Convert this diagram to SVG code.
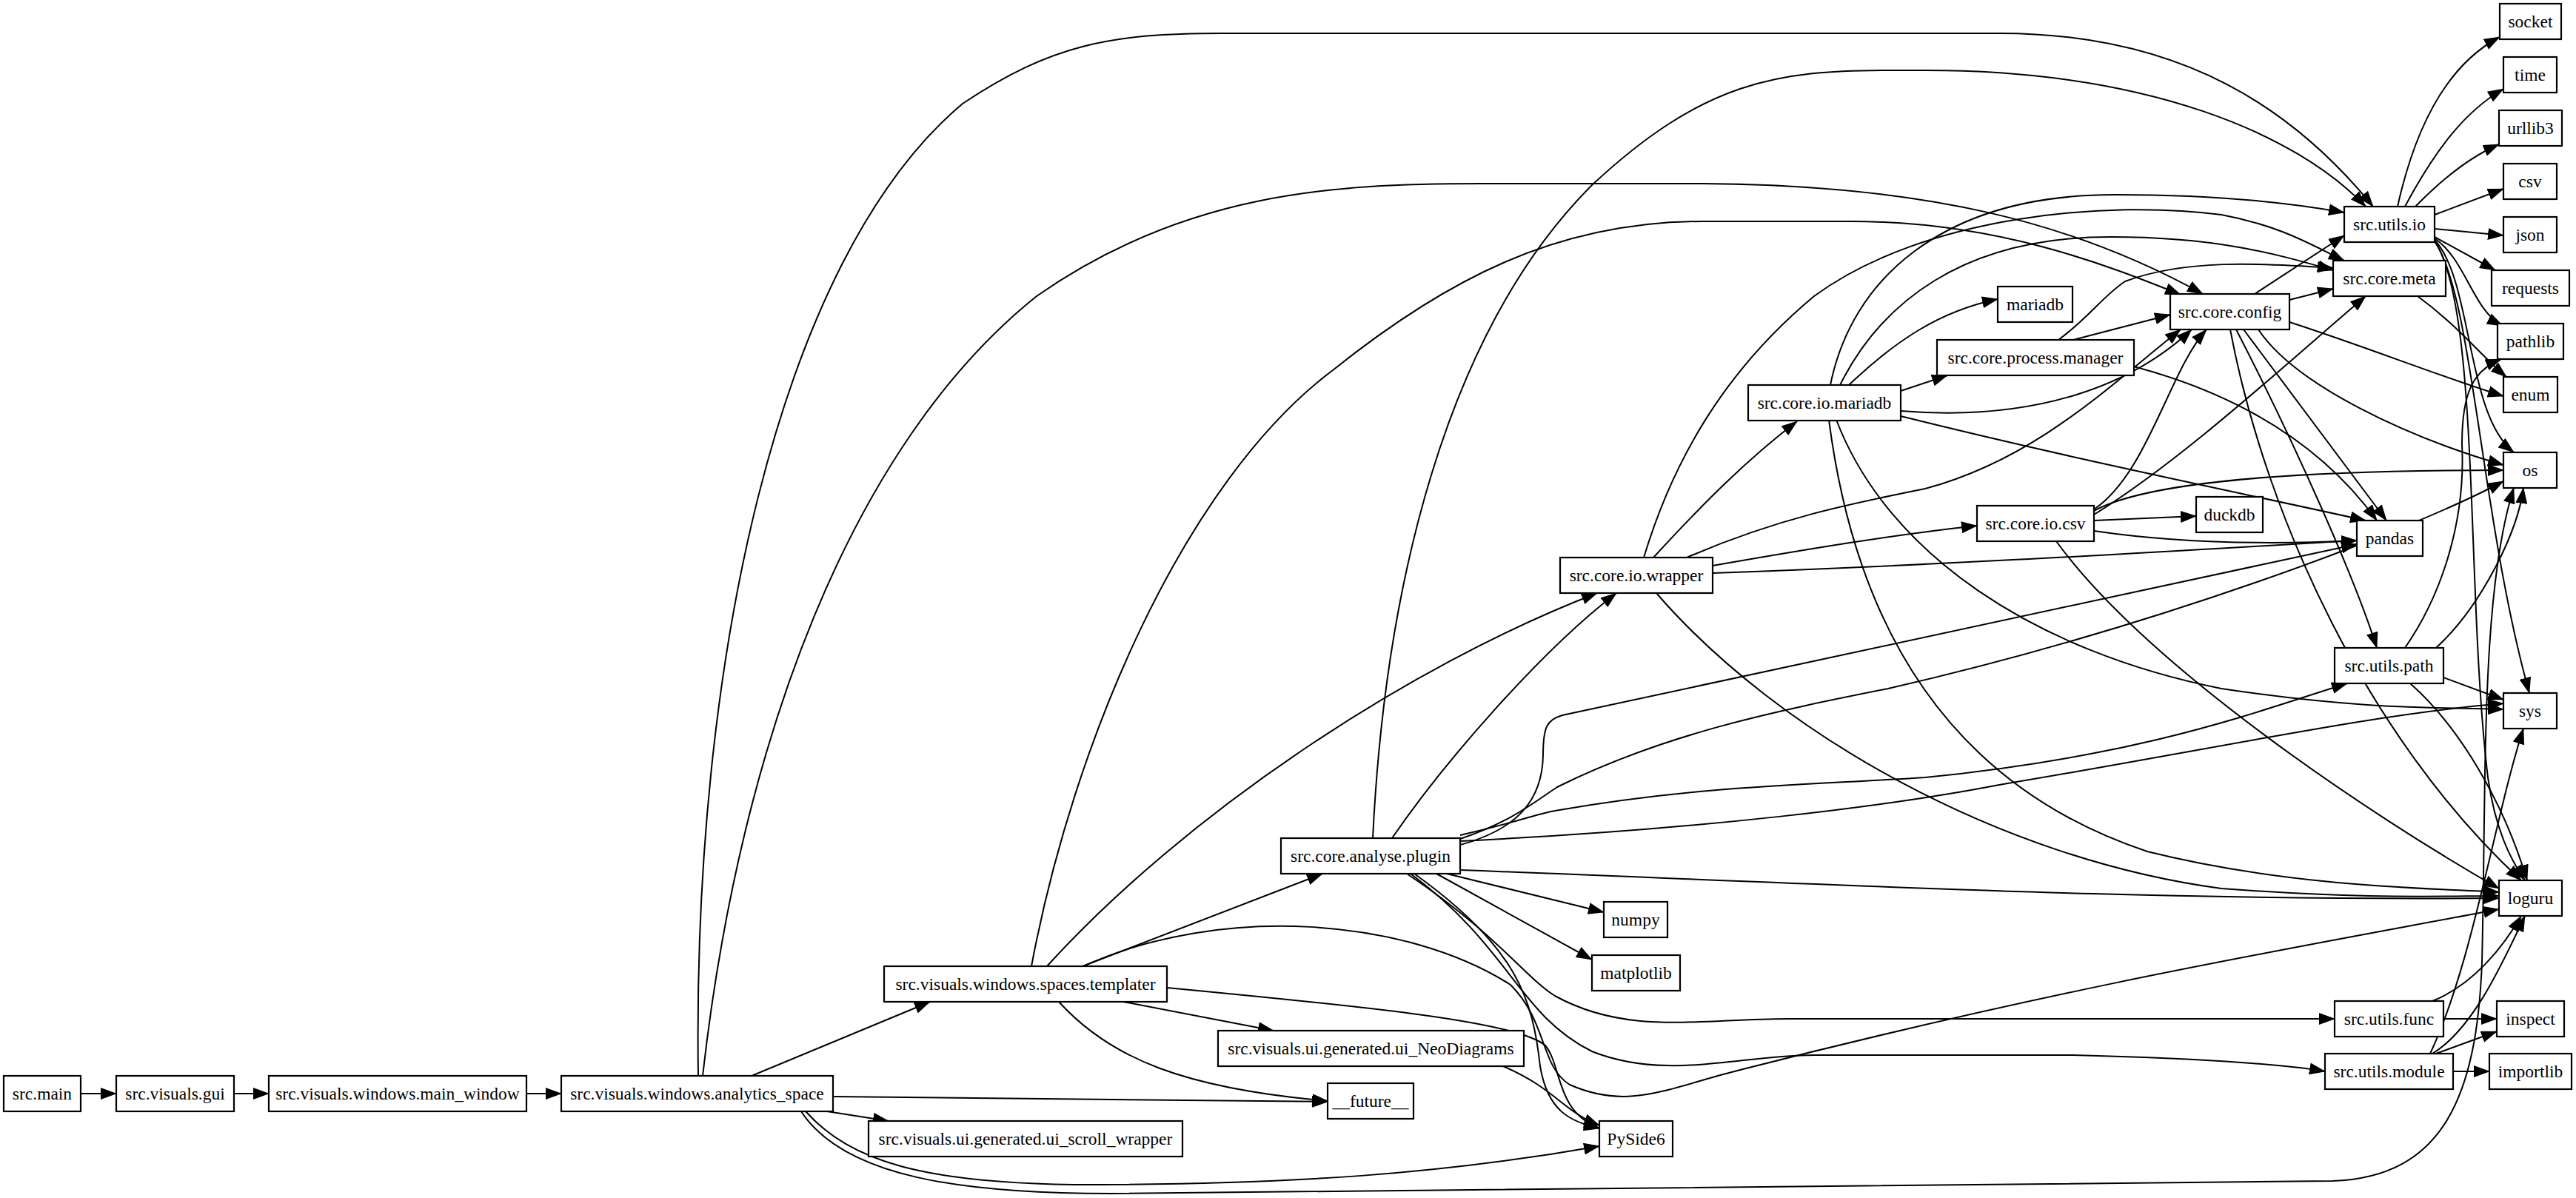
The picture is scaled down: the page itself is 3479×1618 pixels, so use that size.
<svg xmlns="http://www.w3.org/2000/svg" width="3479" height="1618" viewBox="0 0 3479 1618">
<style>
.n rect{fill:#fff;stroke:#000;stroke-width:2.2}
.n text{font-family:"Liberation Serif","Times New Roman",serif;font-size:23.5px;text-anchor:middle;dominant-baseline:central;fill:#000}
#edges path{fill:none;stroke:#000;stroke-width:2;marker-end:url(#ah)}
</style>
<defs><marker id="ah" markerUnits="userSpaceOnUse" markerWidth="22" markerHeight="16" refX="21" refY="8" orient="auto"><path d="M0,0 L22,8 L0,16 z" fill="#000"/></marker></defs>
<rect width="3479" height="1618" fill="#fff"/>
<g id="edges">
<path d="M109,1477 L157,1477"/>
<path d="M316,1477 L363,1477"/>
<path d="M711,1477 L758,1477"/>
<path d="M1015,1453 L1256,1353"/>
<path d="M1125,1481 C1400,1484 1600,1486 1793,1488"/>
<path d="M1117,1501 L1200,1514"/>
<path d="M1088,1501 C1150,1570 1250,1597 1450,1600 C1750,1600 1950,1585 2160,1548"/>
<path d="M1082,1501 C1140,1590 1300,1612 1500,1612 L3150,1595 C3300,1590 3345,1480 3352,1300 C3358,1050 3350,800 3395,659"/>
<path d="M943,1453 C935,900 1050,350 1300,140 C1420,60 1500,45 1650,45 L2700,45 C2950,45 3100,150 3205,279"/>
<path d="M949,1453 C1000,1000 1150,600 1400,400 C1600,260 1800,248 2000,248 L2300,248 C2600,250 2800,300 2975,397"/>
<path d="M1393,1305 C1450,1000 1600,650 1800,500 C1950,380 2100,299 2300,299 L2500,299 C2700,299 2850,360 2945,398"/>
<path d="M1854,1132 C1870,800 1950,450 2150,250 C2300,110 2400,95 2550,95 L2600,95 C2900,95 3100,180 3195,279"/>
<path d="M1462,1305 L1786,1180"/>
<path d="M1414,1305 C1600,1100 1900,900 2157,801"/>
<path d="M1880,1132 C1950,1030 2080,880 2183,801"/>
<path d="M1517,1353 L1720,1392"/>
<path d="M1430,1353 C1500,1430 1600,1470 1793,1487"/>
<path d="M1576,1334 C1850,1360 2050,1380 2087,1412 C2110,1440 2100,1500 2160,1524"/>
<path d="M2030,1440 C2100,1470 2110,1500 2160,1520"/>
<path d="M1463,1305 C1650,1220 1900,1240 2040,1330 C2090,1380 2080,1440 2120,1465 C2200,1500 2250,1470 2350,1445 C2800,1330 3100,1280 3375,1228"/>
<path d="M1954,1180 L2166,1232"/>
<path d="M1940,1180 L2150,1296"/>
<path d="M1900,1180 C2020,1260 2060,1320 2100,1345 C2200,1400 2300,1375 2420,1376 L3153,1376"/>
<path d="M1905,1180 C2040,1280 2050,1370 2150,1420 C2250,1460 2350,1425 2450,1425 L2800,1425 C3000,1430 3100,1440 3140,1447"/>
<path d="M1910,1180 C2050,1280 2070,1350 2080,1440 C2090,1500 2120,1515 2160,1524"/>
<path d="M1972,1175 C2500,1195 2900,1217 3375,1213"/>
<path d="M1972,1141 C2050,1120 2083,1080 2084,1020 C2084,980 2090,972 2110,966 L3183,735"/>
<path d="M1972,1133 C2040,1110 2070,1085 2103,1063 C2250,990 2400,960 2550,930 C2900,850 3250,720 3381,650"/>
<path d="M1972,1128 C2050,1110 2080,1098 2100,1095 C2300,1060 2450,1060 2600,1050 C2900,1020 3050,960 3170,923"/>
<path d="M1972,1136 C2300,1120 2550,1089 2700,1060 C3000,1010 3200,965 3381,950"/>
<path d="M2233,753 C2300,680 2360,620 2427,569"/>
<path d="M2313,764 C2450,740 2560,722 2670,710"/>
<path d="M2313,774 C2700,760 3000,740 3183,730"/>
<path d="M2278,753 C2400,700 2500,680 2600,660 C2750,620 2850,520 2945,445"/>
<path d="M2220,753 C2260,620 2330,500 2450,400 C2600,290 2850,270 3000,290 C3080,305 3120,330 3166,352"/>
<path d="M2237,801 C2400,990 2700,1160 3000,1200 C3200,1215 3300,1210 3375,1210"/>
<path d="M2497,520 C2560,460 2620,420 2698,404"/>
<path d="M2567,528 L2630,507"/>
<path d="M2567,555 C2750,570 2880,520 2960,445"/>
<path d="M2567,562 C2800,620 3000,660 3195,703"/>
<path d="M2472,520 C2500,380 2620,263 2856,263 C3000,263 3100,275 3166,287"/>
<path d="M2485,520 C2540,410 2650,320 2850,320 C3000,320 3080,345 3151,365"/>
<path d="M2480,567 C2550,750 2750,880 3000,930 C3200,960 3300,955 3381,958"/>
<path d="M2470,567 C2500,800 2600,1050 2900,1150 C3100,1200 3300,1200 3375,1205"/>
<path d="M2800,459 L2931,425"/>
<path d="M2780,459 C2820,430 2840,400 2870,380 C2950,350 3050,355 3151,362"/>
<path d="M2882,495 C3050,540 3150,620 3210,703"/>
<path d="M3045,397 L3166,318"/>
<path d="M3092,405 L3151,390"/>
<path d="M3092,435 C3200,470 3300,510 3381,535"/>
<path d="M3050,445 C3100,520 3250,590 3381,628"/>
<path d="M3030,445 L3223,703"/>
<path d="M3020,445 C3100,600 3180,780 3210,875"/>
<path d="M3012,445 C3060,700 3200,1000 3405,1189"/>
<path d="M2828,703 L2966,697"/>
<path d="M2828,717 C2950,735 3080,735 3183,730"/>
<path d="M2828,690 C2900,650 3100,635 3381,635"/>
<path d="M2828,688 C2900,640 2930,500 2980,445"/>
<path d="M2828,695 C2950,620 3100,480 3195,400"/>
<path d="M2777,731 C2900,900 3200,1100 3375,1200"/>
<path d="M3238,279 C3260,180 3300,90 3376,50"/>
<path d="M3248,279 C3290,200 3330,150 3381,120"/>
<path d="M3262,279 C3300,240 3340,210 3375,195"/>
<path d="M3288,290 L3381,255"/>
<path d="M3288,309 L3381,318"/>
<path d="M3288,320 L3370,365"/>
<path d="M3288,322 C3330,350 3340,420 3380,440"/>
<path d="M3288,324 C3340,380 3330,560 3395,611"/>
<path d="M3288,326 C3340,400 3350,700 3416,936"/>
<path d="M3288,325 C3350,420 3330,800 3360,1050 C3370,1120 3390,1160 3410,1189"/>
<path d="M3265,400 C3320,440 3350,480 3385,509"/>
<path d="M3300,915 L3381,945"/>
<path d="M3255,923 C3320,980 3380,1080 3413,1189"/>
<path d="M3248,875 C3300,800 3330,700 3325,600 C3325,530 3340,500 3378,485"/>
<path d="M3290,875 C3350,820 3400,720 3408,659"/>
<path d="M3300,1376 L3372,1376"/>
<path d="M3285,1352 C3340,1330 3380,1280 3405,1237"/>
<path d="M3290,1423 L3372,1393"/>
<path d="M3313,1447 L3362,1447"/>
<path d="M3285,1423 C3340,1390 3380,1300 3410,1237"/>
<path d="M3282,1423 C3340,1300 3370,1100 3408,984"/>
</g>
<g id="src.main" class="n"><rect x="5" y="1453" width="104" height="48"/><text x="57" y="1477">src.main</text></g>
<g id="src.visuals.gui" class="n"><rect x="157" y="1453" width="159" height="48"/><text x="236.5" y="1477">src.visuals.gui</text></g>
<g id="main_window" class="n"><rect x="363" y="1453" width="348" height="48"/><text x="537" y="1477">src.visuals.windows.main_window</text></g>
<g id="analytics_space" class="n"><rect x="758" y="1453" width="367" height="48"/><text x="941.5" y="1477">src.visuals.windows.analytics_space</text></g>
<g id="templater" class="n"><rect x="1194" y="1305" width="382" height="48"/><text x="1385" y="1329">src.visuals.windows.spaces.templater</text></g>
<g id="plugin" class="n"><rect x="1730" y="1132" width="242" height="48"/><text x="1851" y="1156">src.core.analyse.plugin</text></g>
<g id="numpy" class="n"><rect x="2166" y="1218" width="86" height="48"/><text x="2209" y="1242">numpy</text></g>
<g id="matplotlib" class="n"><rect x="2150" y="1290" width="119" height="48"/><text x="2209.5" y="1314">matplotlib</text></g>
<g id="neodiagrams" class="n"><rect x="1645" y="1392" width="413" height="48"/><text x="1851.5" y="1416">src.visuals.ui.generated.ui_NeoDiagrams</text></g>
<g id="future" class="n"><rect x="1793" y="1463" width="116" height="48"/><text x="1851" y="1487">__future__</text></g>
<g id="scroll_wrapper" class="n"><rect x="1173" y="1514" width="424" height="48"/><text x="1385" y="1538">src.visuals.ui.generated.ui_scroll_wrapper</text></g>
<g id="pyside6" class="n"><rect x="2160" y="1514" width="99" height="48"/><text x="2209.5" y="1538">PySide6</text></g>
<g id="io_wrapper" class="n"><rect x="2107" y="753" width="206" height="48"/><text x="2210" y="777">src.core.io.wrapper</text></g>
<g id="io_mariadb" class="n"><rect x="2361" y="520" width="206" height="48"/><text x="2464" y="544">src.core.io.mariadb</text></g>
<g id="mariadb" class="n"><rect x="2698" y="387" width="101" height="48"/><text x="2748.5" y="411">mariadb</text></g>
<g id="process_manager" class="n"><rect x="2616" y="459" width="266" height="48"/><text x="2749" y="483">src.core.process.manager</text></g>
<g id="config" class="n"><rect x="2931" y="397" width="161" height="48"/><text x="3011.5" y="421">src.core.config</text></g>
<g id="io_csv" class="n"><rect x="2670" y="683" width="158" height="48"/><text x="2749" y="707">src.core.io.csv</text></g>
<g id="duckdb" class="n"><rect x="2966" y="671" width="90" height="48"/><text x="3011" y="695">duckdb</text></g>
<g id="pandas" class="n"><rect x="3183" y="703" width="89" height="48"/><text x="3227.5" y="727">pandas</text></g>
<g id="utils_io" class="n"><rect x="3166" y="279" width="122" height="48"/><text x="3227" y="303">src.utils.io</text></g>
<g id="meta" class="n"><rect x="3151" y="352" width="152" height="48"/><text x="3227" y="376">src.core.meta</text></g>
<g id="socket" class="n"><rect x="3376" y="5" width="83" height="48"/><text x="3417.5" y="29">socket</text></g>
<g id="time" class="n"><rect x="3381" y="77" width="72" height="48"/><text x="3417" y="101">time</text></g>
<g id="urllib3" class="n"><rect x="3375" y="149" width="85" height="48"/><text x="3417.5" y="173">urllib3</text></g>
<g id="csv" class="n"><rect x="3381" y="221" width="72" height="48"/><text x="3417" y="245">csv</text></g>
<g id="json" class="n"><rect x="3381" y="293" width="72" height="48"/><text x="3417" y="317">json</text></g>
<g id="requests" class="n"><rect x="3365" y="365" width="105" height="48"/><text x="3417.5" y="389">requests</text></g>
<g id="pathlib" class="n"><rect x="3373" y="437" width="89" height="48"/><text x="3417.5" y="461">pathlib</text></g>
<g id="enum" class="n"><rect x="3381" y="509" width="73" height="48"/><text x="3417.5" y="533">enum</text></g>
<g id="os" class="n"><rect x="3381" y="611" width="72" height="48"/><text x="3417" y="635">os</text></g>
<g id="utils_path" class="n"><rect x="3153" y="875" width="147" height="48"/><text x="3226.5" y="899">src.utils.path</text></g>
<g id="sys" class="n"><rect x="3381" y="936" width="72" height="48"/><text x="3417" y="960">sys</text></g>
<g id="loguru" class="n"><rect x="3375" y="1189" width="85" height="48"/><text x="3417.5" y="1213">loguru</text></g>
<g id="utils_func" class="n"><rect x="3153" y="1352" width="147" height="48"/><text x="3226.5" y="1376">src.utils.func</text></g>
<g id="inspect" class="n"><rect x="3372" y="1352" width="91" height="48"/><text x="3417.5" y="1376">inspect</text></g>
<g id="utils_module" class="n"><rect x="3140" y="1423" width="173" height="48"/><text x="3226.5" y="1447">src.utils.module</text></g>
<g id="importlib" class="n"><rect x="3362" y="1423" width="111" height="48"/><text x="3417.5" y="1447">importlib</text></g>
</svg>
